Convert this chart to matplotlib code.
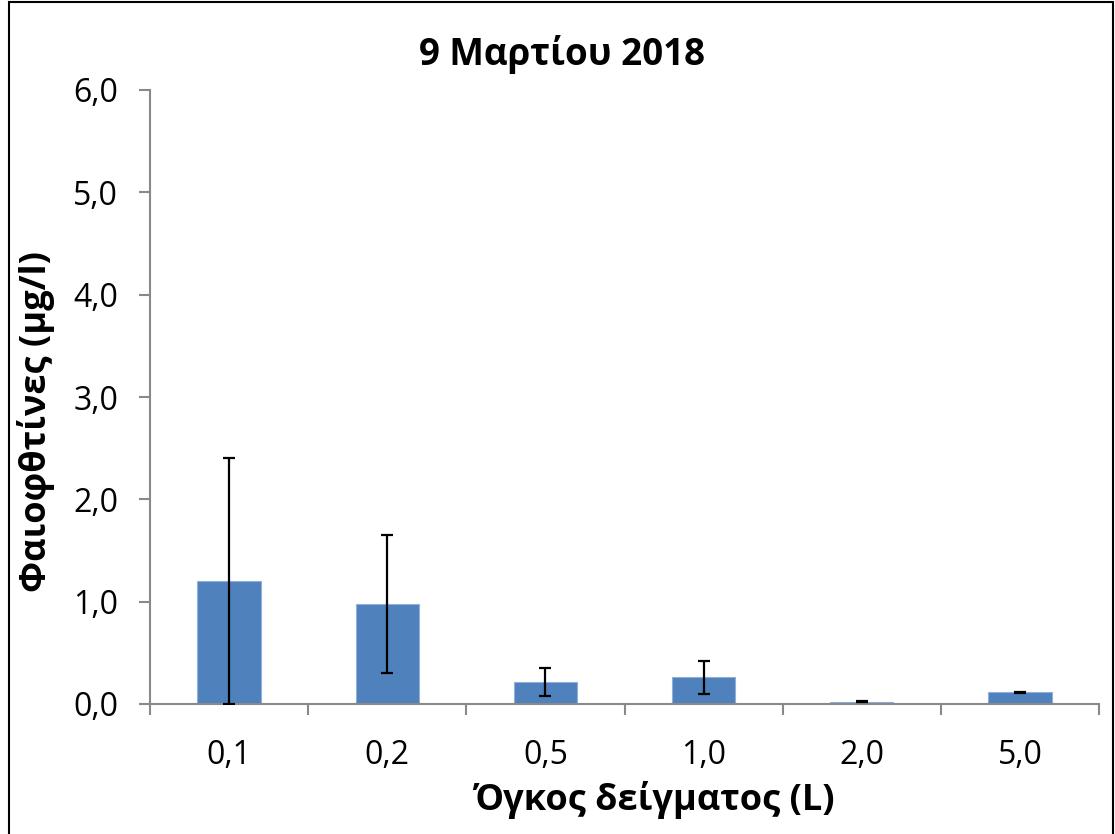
import matplotlib.pyplot as plt
from matplotlib.patches import Rectangle
import numpy as np

plt.rcParams['font.family'] = ['Open Sans', 'DejaVu Sans']

# sample volume categories and mean pheophytin values with std errors
volumes = ["0,1", "0,2", "0,5", "1,0", "2,0", "5,0"]
pheo = [1.20, 0.98, 0.215, 0.26, 0.02, 0.115]
pheo_err = [1.20, 0.675, 0.135, 0.16, 0.005, 0.005]
y_ticks = [0, 1, 2, 3, 4, 5, 6]

fig = plt.figure(figsize=(11.15, 8.34), dpi=100)
ax = fig.add_axes([150/1115, 1 - 704/834, 949/1115, 614/834])

x = np.arange(len(volumes))
ax.bar(x, pheo, width=0.4, color="#4F81BD", edgecolor="#8FB0DA", linewidth=0.8, zorder=2)
ax.errorbar(x, pheo, yerr=pheo_err, fmt="none", ecolor="black",
            elinewidth=1.6, capsize=4.5, capthick=1.6, zorder=3)

ax.set_xlim(-0.5, len(volumes) - 0.5)
ax.set_ylim(0, 6)
ax.set_yticks(y_ticks)
ax.set_yticklabels([f"{v:.1f}".replace(".", ",") for v in y_ticks])
ax.set_xticks(x)
ax.set_xticklabels(volumes)

# category boundary ticks like a spreadsheet chart
ax.set_xticks(np.arange(-0.5, len(volumes)), minor=True)
ax.tick_params(axis="x", which="major", length=0, pad=25, labelsize=23)
ax.tick_params(axis="x", which="minor", length=8, width=1.5, color="#898989")
ax.tick_params(axis="y", length=8, width=1.5, color="#898989", pad=15, labelsize=23)

for side in ["top", "right"]:
    ax.spines[side].set_visible(False)
for side in ["left", "bottom"]:
    ax.spines[side].set_color("#898989")
    ax.spines[side].set_linewidth(1.5)

fig.text(562/1115, 1 - 55/834, "9 Μαρτίου 2018", ha="center", va="center",
         fontsize=26.5, fontweight="bold")
fig.text(36/1115, 1 - 421/834, "Φαιοφθτίνες (μg/l)", ha="center", va="center",
         rotation=90, fontsize=26, fontweight="bold")
fig.text(654/1115, 1 - 800/834, "Όγκος δείγματος (L)", ha="center", va="center",
         fontsize=26, fontweight="bold")

# outer chart frame
fig.patches.append(Rectangle((9/1115, -0.01), 1104/1115, 1 - 2/834 + 0.01,
                             transform=fig.transFigure, fill=False,
                             edgecolor="black", linewidth=1.5))

fig.savefig("out.png", dpi=100)
